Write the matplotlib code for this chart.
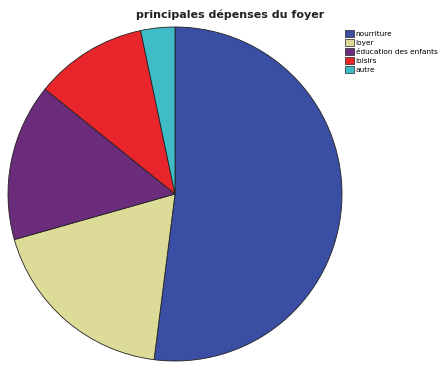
import matplotlib
matplotlib.use("Agg")
import matplotlib.pyplot as plt
from matplotlib.patches import Patch

categories = ["nourriture", "loyer", "éducation des enfants", "loisirs", "autre"]
values = [52.0, 18.6, 15.2, 10.9, 3.3]
colors = ["#3a4ea3", "#dcdb98", "#6b2c7c", "#e8252b", "#3fbcc6"]

fig = plt.figure(figsize=(4.4, 3.65), dpi=100)
ax = fig.add_axes([8 / 440, 4 / 365, 334 / 440, 334 / 365])
ax.pie(values, colors=colors, startangle=90, counterclock=False,
       wedgeprops=dict(edgecolor="#222222", linewidth=0.6), radius=1.0)
ax.set_xlim(-1.0, 1.0)
ax.set_ylim(-1.0, 1.0)
ax.set_aspect("auto")
ax.axis("off")

fig.text(230 / 440, 1 - 15 / 365, "principales dépenses du foyer",
         ha="center", va="center", fontsize=8, fontweight="bold", color="#222222")

handles = [Patch(facecolor=c, edgecolor="#222222", linewidth=0.5) for c in colors]
fig.legend(handles, categories, loc="upper left", bbox_to_anchor=(341 / 440, 1 - 26 / 365),
           frameon=False, fontsize=5.3, handlelength=1.1, handleheight=1.1,
           handletextpad=0.3, labelspacing=0.25, borderpad=0.1)

fig.savefig("out.png", dpi=100)
